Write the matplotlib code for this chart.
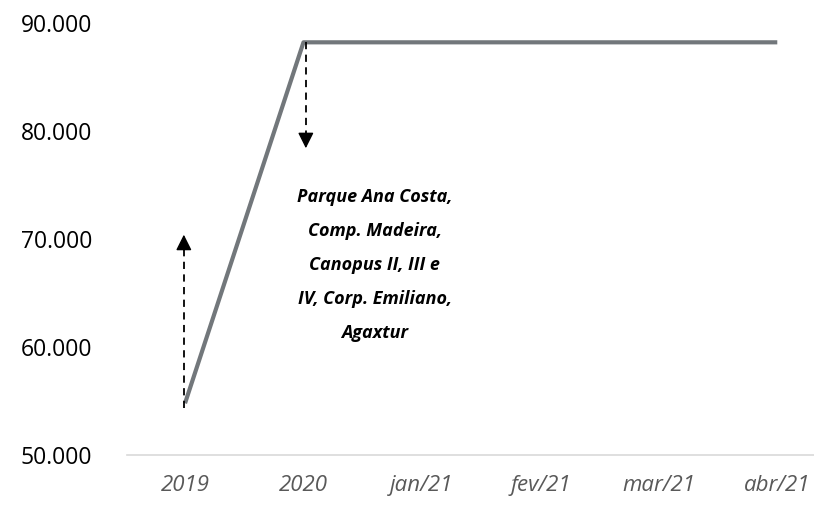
import matplotlib.pyplot as plt
import matplotlib.ticker as mticker

# data
periods = ['2019', '2020', 'jan/21', 'fev/21', 'mar/21', 'abr/21']
values = [54800, 88200, 88200, 88200, 88200, 88200]
y_ticks = [50000, 60000, 70000, 80000, 90000]

# dashed arrows: (x, start, end)
arrows = [(-0.01, 54400, 70400), (1.02, 88200, 78400)]

note = ('Parque Ana Costa,\nComp. Madeira,\nCanopus II, III e\n'
        'IV, Corp. Emiliano,\nAgaxtur')

plt.rcParams['font.family'] = ['Open Sans', 'DejaVu Sans']

fig = plt.figure(figsize=(8.14, 5.08), dpi=100)
ax = fig.add_axes([0.156, 0.104, 0.844, 0.851])

x = list(range(len(periods)))
ax.plot(x, values, color='#72777b', linewidth=3.0, solid_capstyle='butt')

for ax_x, y0, y1 in arrows:
    step = 1400 if y1 > y0 else -1400
    ax.plot([ax_x, ax_x], [y0, y1 - step], color='black', lw=1.3,
            linestyle=(0, (4, 3)))
    ax.annotate('', xy=(ax_x, y1), xytext=(ax_x, y1 - step),
                arrowprops=dict(arrowstyle='-|>', color='black', lw=1.0,
                                mutation_scale=24, shrinkA=0, shrinkB=0))

ax.text(1.6, 67600, note, ha='center', va='center', fontsize=13,
        fontweight='bold', fontstyle='italic', linespacing=2.15)

ax.set_xlim(-0.49, 5.31)
ax.set_ylim(50000, 90000)
ax.set_xticks(x)
ax.set_xticklabels(periods, fontsize=16, fontstyle='italic', color='#595959')
ax.set_yticks(y_ticks)
ax.yaxis.set_major_formatter(mticker.FuncFormatter(lambda v, p: f'{int(v):,}'.replace(',', '.')))
ax.tick_params(axis='y', labelsize=16.5, length=0, pad=25)
ax.tick_params(axis='x', length=0, pad=14)

for s in ['top', 'right', 'left']:
    ax.spines[s].set_visible(False)
ax.spines['bottom'].set_color('#d9d9d9')
ax.spines['bottom'].set_linewidth(1.2)

fig.savefig('out.png', dpi=100)
